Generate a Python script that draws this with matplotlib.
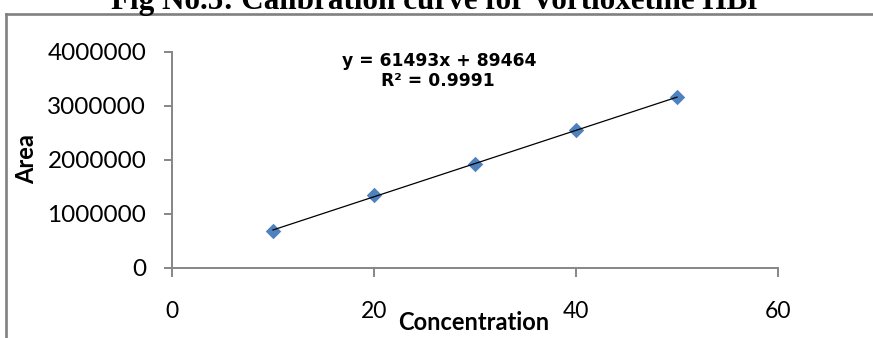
import matplotlib.pyplot as plt
import numpy as np
from matplotlib.lines import Line2D

conc = [10, 20, 30, 40, 50]
area = [680000, 1350000, 1930000, 2560000, 3160000]
slope = 61493
intercept = 89464
r2 = 0.9991

W, H = 873, 338
fig = plt.figure(figsize=(W / 100, H / 100), dpi=100)


def fx(px):
    return px / W


def fy(py):
    return 1 - py / H


ax = fig.add_axes([fx(172), fy(268), fx(778) - fx(172), fy(52) - fy(268)])

ax.scatter(conc, area, marker='D', s=62, color='#4F81BD', zorder=3, linewidths=0)
xl = np.array([conc[0], conc[-1]])
ax.plot(xl, slope * xl + intercept, color='black', lw=0.9, zorder=4)

ax.set_xlim(0, 60)
ax.set_ylim(0, 4000000)
ax.set_xticks([0, 20, 40, 60])
ax.set_yticks([0, 1000000, 2000000, 3000000, 4000000])
ax.set_yticklabels(['0', '1000000', '2000000', '3000000', '4000000'])

gray = '#868686'
for s in ['top', 'right']:
    ax.spines[s].set_visible(False)
for s in ['left', 'bottom']:
    ax.spines[s].set_color(gray)
    ax.spines[s].set_linewidth(1.4)
ax.tick_params(axis='x', direction='out', length=6.5, width=1.4, color=gray,
               pad=17, labelsize=16.5)
ax.tick_params(axis='y', direction='out', length=5.5, width=1.4, color=gray,
               pad=13, labelsize=17.5)
for lab in ax.get_xticklabels() + ax.get_yticklabels():
    lab.set_fontfamily('Lato')

ax.set_xlabel('Concentration', fontsize=17, fontweight='bold', family='Lato',
              va='center', ha='center')
ax.xaxis.set_label_coords((474 - 172) / 606, (268 - 322) / 216)
ax.set_ylabel('Area', fontsize=17, fontweight='bold', family='Lato',
              va='center', ha='center')
ax.yaxis.set_label_coords((27 - 172) / 606, (268 - 159) / 216)

fig.text(fx(439), fy(61), 'y = %dx + %d' % (slope, intercept), ha='center', va='center',
         fontsize=12.3, fontweight='bold', family='DejaVu Sans')
fig.text(fx(438), fy(81), 'R² = %.4f' % r2, ha='center', va='center',
         fontsize=12.3, fontweight='bold', family='DejaVu Sans')

fig.text(fx(436), fy(9), 'Fig No.5: Calibration curve for Vortioxetine HBr', ha='center',
         va='baseline', fontsize=22.4, fontweight='bold', family='Liberation Serif')

fig.add_artist(Line2D([fx(5.5), 1.0], [fy(14), fy(14)], color='#808080', lw=1.9))
fig.add_artist(Line2D([fx(5.5), fx(5.5)], [fy(14), 0.0], color='#808080', lw=1.9))

fig.savefig('out.png', dpi=100)
